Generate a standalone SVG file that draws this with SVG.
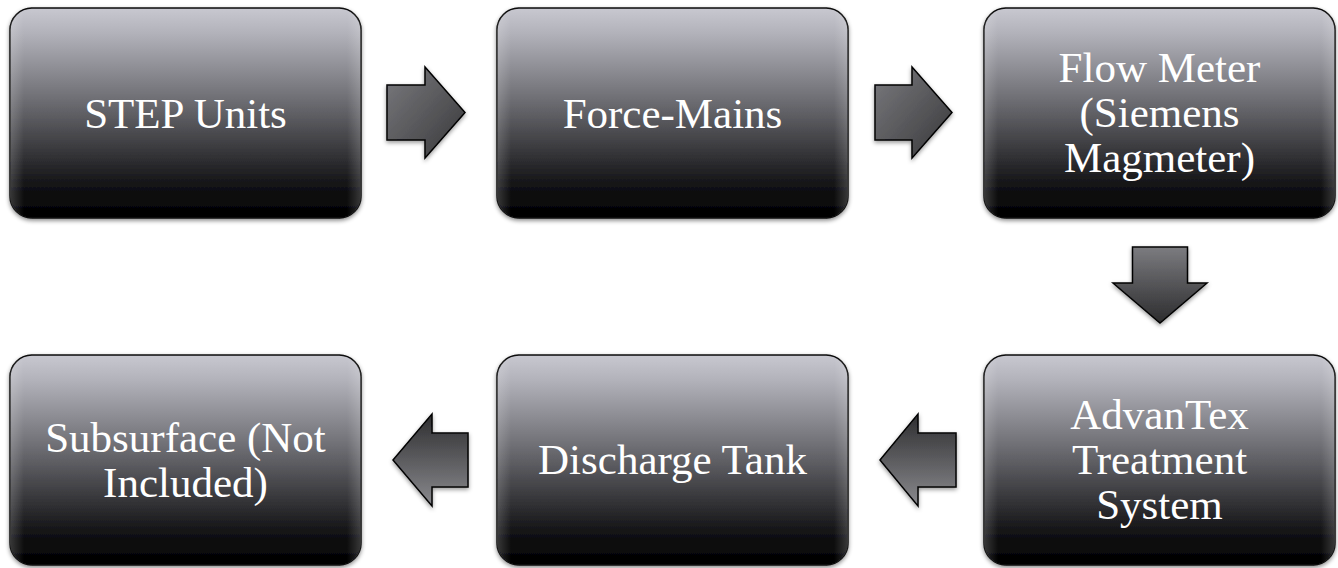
<svg xmlns="http://www.w3.org/2000/svg" width="1338" height="568" viewBox="0 0 1338 568">
  <style>
    .box { fill: url(#boxGrad); stroke: #0a0a0a; stroke-width: 1.5; filter: url(#shadow); }
    .gloss { fill: url(#sideGloss); stroke: none; }
    .label { font-family: "Liberation Serif", "DejaVu Serif", serif; font-size: 43px; fill: #ffffff; text-anchor: middle; }
    .arrow { stroke: #050505; stroke-width: 1.5; stroke-linejoin: miter; filter: url(#ashadow); }
  </style>
  <defs>
    <linearGradient id="boxGrad" x1="0" y1="0" x2="0" y2="1">
      <stop offset="0" stop-color="#c8c8d0"/>
      <stop offset="0.12" stop-color="#b2b2ba"/>
      <stop offset="0.5" stop-color="#606065"/>
      <stop offset="0.85" stop-color="#121214"/>
      <stop offset="1" stop-color="#000000"/>
    </linearGradient>
    <linearGradient id="sideGloss" x1="0" y1="0" x2="1" y2="0">
      <stop offset="0" stop-color="#ffffff" stop-opacity="0.18"/>
      <stop offset="0.04" stop-color="#ffffff" stop-opacity="0"/>
      <stop offset="0.96" stop-color="#ffffff" stop-opacity="0"/>
      <stop offset="1" stop-color="#ffffff" stop-opacity="0.18"/>
    </linearGradient>
    <linearGradient id="gRight" x1="0" y1="0" x2="1" y2="1">
      <stop offset="0" stop-color="#7a7a7e"/>
      <stop offset="1" stop-color="#38383a"/>
    </linearGradient>
    <linearGradient id="gDown" x1="0" y1="0" x2="0" y2="1">
      <stop offset="0" stop-color="#7c7c80"/>
      <stop offset="1" stop-color="#2c2c2e"/>
    </linearGradient>
    <linearGradient id="gLeft" x1="0" y1="0" x2="0" y2="1">
      <stop offset="0" stop-color="#2e2e30"/>
      <stop offset="1" stop-color="#8a8a8e"/>
    </linearGradient>
    <filter id="shadow" x="-5%" y="-5%" width="110%" height="115%">
      <feDropShadow dx="0" dy="2" stdDeviation="2" flood-color="#000" flood-opacity="0.45"/>
    </filter>
    <filter id="ashadow" x="-20%" y="-20%" width="140%" height="140%">
      <feDropShadow dx="0" dy="2" stdDeviation="2" flood-color="#000" flood-opacity="0.4"/>
    </filter>
  </defs>

  <g id="connectors">
    <polygon class="arrow" fill="url(#gRight)" points="387,85 425,85 425,67 465,112.5 425,158 425,140 387,140"/>
    <polygon class="arrow" fill="url(#gRight)" points="875,85 912,85 912,67 952,112.5 912,158 912,140 875,140"/>
    <polygon class="arrow" fill="url(#gDown)" points="1132.5,247 1187.5,247 1187.5,283 1207,283 1160,323 1113,283 1132.5,283"/>
    <polygon class="arrow" fill="url(#gLeft)" points="956,433 918,433 918,414 880,460 918,506 918,487 956,487"/>
    <polygon class="arrow" fill="url(#gLeft)" points="468,433 432,433 432,414 393,460 432,506 432,487 468,487"/>
  </g>

  <g id="node-step-units">
    <rect class="box" x="10" y="8" width="351" height="210" rx="22" ry="22"/>
    <rect class="gloss" x="10" y="8" width="351" height="210" rx="22" ry="22"/>
    <text class="label" x="185.5" y="128">STEP Units</text>
  </g>

  <g id="node-force-mains">
    <rect class="box" x="497" y="8" width="351" height="210" rx="22" ry="22"/>
    <rect class="gloss" x="497" y="8" width="351" height="210" rx="22" ry="22"/>
    <text class="label" x="672.5" y="128">Force-Mains</text>
  </g>

  <g id="node-flow-meter">
    <rect class="box" x="984" y="8" width="351" height="210" rx="22" ry="22"/>
    <rect class="gloss" x="984" y="8" width="351" height="210" rx="22" ry="22"/>
    <text class="label" x="1159.5" y="82">Flow Meter</text>
    <text class="label" x="1159.5" y="127">(Siemens</text>
    <text class="label" x="1159.5" y="172">Magmeter)</text>
  </g>

  <g id="node-advantex">
    <rect class="box" x="984" y="355" width="351" height="210" rx="22" ry="22"/>
    <rect class="gloss" x="984" y="355" width="351" height="210" rx="22" ry="22"/>
    <text class="label" x="1159.5" y="429">AdvanTex</text>
    <text class="label" x="1159.5" y="474">Treatment</text>
    <text class="label" x="1159.5" y="519">System</text>
  </g>

  <g id="node-discharge-tank">
    <rect class="box" x="497" y="355" width="351" height="210" rx="22" ry="22"/>
    <rect class="gloss" x="497" y="355" width="351" height="210" rx="22" ry="22"/>
    <text class="label" x="672.5" y="474">Discharge Tank</text>
  </g>

  <g id="node-subsurface">
    <rect class="box" x="10" y="355" width="351" height="210" rx="22" ry="22"/>
    <rect class="gloss" x="10" y="355" width="351" height="210" rx="22" ry="22"/>
    <text class="label" x="185.5" y="452">Subsurface (Not</text>
    <text class="label" x="185.5" y="497">Included)</text>
  </g>
</svg>
